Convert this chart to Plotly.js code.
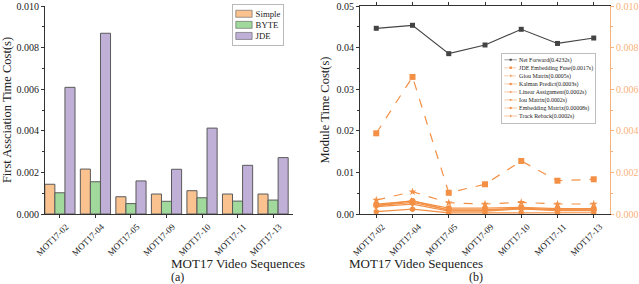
<!DOCTYPE html>
<html><head><meta charset="utf-8">
<script src="https://cdn.plot.ly/plotly-3.0.1.min.js"></script>
<style>html,body{margin:0;padding:0;background:#fff}#chart{width:639px;height:284px}</style>
</head><body><div id="chart"></div>
<script>
const categories = ["MOT17-02","MOT17-04","MOT17-05","MOT17-09","MOT17-10","MOT17-11","MOT17-13"];
// Panel (a)
const simpleCost = [0.00143,0.00216,0.00083,0.00096,0.00112,0.00096,0.00096];
const byteCost   = [0.00102,0.00155,0.00050,0.00061,0.00078,0.00062,0.00067];
const jdeCost    = [0.00609,0.00869,0.00159,0.00215,0.00413,0.00234,0.00271];
// Panel (b)
const netForward   = [0.04464,0.04536,0.03854,0.04063,0.04440,0.04100,0.04230];
const jdeFuse      = [0.00388,0.00659,0.00102,0.00143,0.00255,0.00160,0.00167];
const giouMatrix   = [0.00067,0.00107,0.00054,0.00048,0.00056,0.00048,0.00048];
const kalmanPred   = [0.00047,0.00062,0.00028,0.00028,0.00032,0.00026,0.00026];
const linearAssign = [0.00040,0.00056,0.00020,0.00020,0.00028,0.00020,0.00020];
const iouMatrix    = [0.00035,0.00047,0.00014,0.00014,0.00024,0.00016,0.00016];
const embedMatrix  = [0.00011,0.00023,0.00005,0.00005,0.00008,0.00006,0.00006];
const trackReback  = [0.00040,0.00064,0.00018,0.00018,0.00026,0.00020,0.00020];
const xTitle = "MOT17 Video Sequences";

const seriesB = [
  {name:"JDE Embedding Fuse(0.0017s)", y:jdeFuse, sym:"square", dash:"dash"},
  {name:"Giou Matrix(0.0005s)", y:giouMatrix, sym:"star", dash:"dash"},
  {name:"Kalman Predict(0.0003s)", y:kalmanPred, sym:"circle", dash:"solid"},
  {name:"Linear Assignment(0.0002s)", y:linearAssign, sym:"triangle-up", dash:"solid"},
  {name:"Iou Matrix(0.0002s)", y:iouMatrix, sym:"triangle-down", dash:"solid"},
  {name:"Embedding Matrix(0.00008s)", y:embedMatrix, sym:"hexagon", dash:"solid"},
  {name:"Track Reback(0.0002s)", y:trackReback, sym:"triangle-right", dash:"solid"}
];

const F = "'Liberation Serif', 'Times New Roman', 'DejaVu Serif', serif";
const orange = "#F39045";
const lightOrange = "#F9B27A";
const barLine = {color:"#5a5a5a", width:1};

const traces = [
  {type:"bar", x:categories, y:simpleCost, name:"Simple", marker:{color:"#FAC28F", line:barLine}, xaxis:"x", yaxis:"y", legend:"legend"},
  {type:"bar", x:categories, y:byteCost, name:"BYTE", marker:{color:"#A0D99B", line:barLine}, xaxis:"x", yaxis:"y", legend:"legend"},
  {type:"bar", x:categories, y:jdeCost, name:"JDE", marker:{color:"#C0B0D8", line:barLine}, xaxis:"x", yaxis:"y", legend:"legend"},
  {type:"scatter", mode:"lines+markers", x:categories, y:netForward, name:"Net Forward(0.4232s)",
   line:{color:"#444", width:1.2}, marker:{symbol:"square", size:5, color:"#444"}, xaxis:"x2", yaxis:"y2", legend:"legend2"}
];
seriesB.forEach(s => traces.push({type:"scatter", mode:"lines+markers", x:categories, y:s.y, name:s.name,
  line:{color:orange, width:1.2, dash:s.dash}, marker:{symbol:s.sym, size:6, color:orange},
  xaxis:"x2", yaxis:"y3", legend:"legend2"}));

const axBase = {showline:true, linecolor:"#333", linewidth:1, ticks:"outside", ticklen:3, tickcolor:"#333",
  showgrid:false, zeroline:false, tickfont:{family:F, size:10, color:"#222"}};
const xBase = {type:"category", tickangle:-45, ticklabelshift:6, ticklabelstandoff:0,
  tickfont:{family:F, size:9, color:"#222"}};

const layout = {
  width:639, height:284, margin:{l:0, r:0, t:6, b:70},
  paper_bgcolor:"#fff", plot_bgcolor:"#fff",
  font:{family:F, color:"#222"},
  barmode:"group", bargap:0.15, bargroupgap:0,
  showlegend:true,
  xaxis:Object.assign({}, axBase, xBase, {domain:[0.0704,0.4585], range:[-0.42,6.56]}),
  yaxis:Object.assign({}, axBase, {range:[0,0.010], dtick:0.002, tickformat:".3f",
    minor:{ticks:"outside", ticklen:2, dtick:0.001, tickcolor:"#333"},
    title:{text:"First Assciation Time Cost(s)", font:{family:F, size:12.5}, standoff:4}}),
  xaxis2:Object.assign({}, axBase, xBase, {domain:[0.5634,0.9546], anchor:"y2", mirror:"ticks"}),
  yaxis2:Object.assign({}, axBase, {anchor:"x2", range:[0,0.05], dtick:0.01, tickformat:".2f",
    minor:{ticks:"outside", ticklen:2, dtick:0.005, tickcolor:"#333"},
    title:{text:"Module Time Cost(s)", font:{family:F, size:12.5}, standoff:4}}),
  yaxis3:Object.assign({}, axBase, {anchor:"x2", overlaying:"y2", side:"right", range:[0,0.010], dtick:0.002, tickformat:".3f",
    linecolor:lightOrange, tickcolor:lightOrange, tickfont:{family:F, size:10, color:lightOrange},
    minor:{ticks:"outside", ticklen:2, dtick:0.001, tickcolor:lightOrange}}),
  legend:{x:0.458, xanchor:"right", y:1.0, yanchor:"top", bgcolor:"#fff", bordercolor:"#888", borderwidth:1,
    font:{family:F, size:15}, tracegroupgap:0, itemwidth:30},
  legend2:{x:0.951, xanchor:"right", y:0.77, yanchor:"top", bgcolor:"#fff", bordercolor:"#666", borderwidth:1,
    font:{family:F, size:14}, tracegroupgap:0, itemwidth:30},
  annotations:[
    {text:xTitle, xref:"paper", yref:"paper", x:0.2645, y:-0.2356, yanchor:"middle", showarrow:false, font:{family:F, size:13}},
    {text:xTitle, xref:"paper", yref:"paper", x:0.759, y:-0.2356, yanchor:"middle", showarrow:false, font:{family:F, size:13}},
    {text:"(a)", xref:"paper", yref:"paper", x:0.2645, y:-0.305, yanchor:"middle", showarrow:false, font:{family:F, size:12}},
    {text:"(b)", xref:"paper", yref:"paper", x:0.759, y:-0.305, yanchor:"middle", showarrow:false, font:{family:F, size:12}}
  ]
};

function parseT(el) {
  const m = /translate\(\s*([-\d.e]+)[ ,]+([-\d.e]+)\s*\)/.exec(el.getAttribute('transform') || '');
  return m ? [parseFloat(m[1]), parseFloat(m[2])] : [0, 0];
}
// Tighten legend item spacing, then scale the box into a target rectangle (left, top, height)
function fitLegend(cls, left, top, height, step, swatch) {
  const g = document.querySelector('#chart g.' + cls);
  if (!g) return;
  const items = Array.from(g.querySelectorAll('g.traces'));
  const bg = g.querySelector('rect.bg');
  if (items.length > 1 && bg) {
    const p0 = parseT(items[0]), p1 = parseT(items[1]);
    const step0 = p1[1] - p0[1];
    items.forEach((it, i) => it.setAttribute('transform', 'translate(' + p0[0] + ',' + (p0[1] + i * step) + ')'));
    const H = parseFloat(bg.getAttribute('height'));
    bg.setAttribute('height', H - (items.length - 1) * (step0 - step));
  }
  if (swatch) {
    g.querySelectorAll('g.legendpoints path').forEach(p => p.setAttribute('d', swatch));
  }
  const bb = bg.getBBox();
  const s = height / bb.height;
  g.setAttribute('transform', 'translate(' + (left - bb.x * s) + ',' + (top - bb.y * s) + ') scale(' + s + ')');
}

Plotly.newPlot("chart", traces, layout, {staticPlot:true, displayModeBar:false}).then(() => {
  fitLegend('legend', 232, 4, 42, 19, "M14,6H-14V-6H14Z");
  fitLegend('legend2', 502, 53, 70, 19, null);
});
</script></body></html>
